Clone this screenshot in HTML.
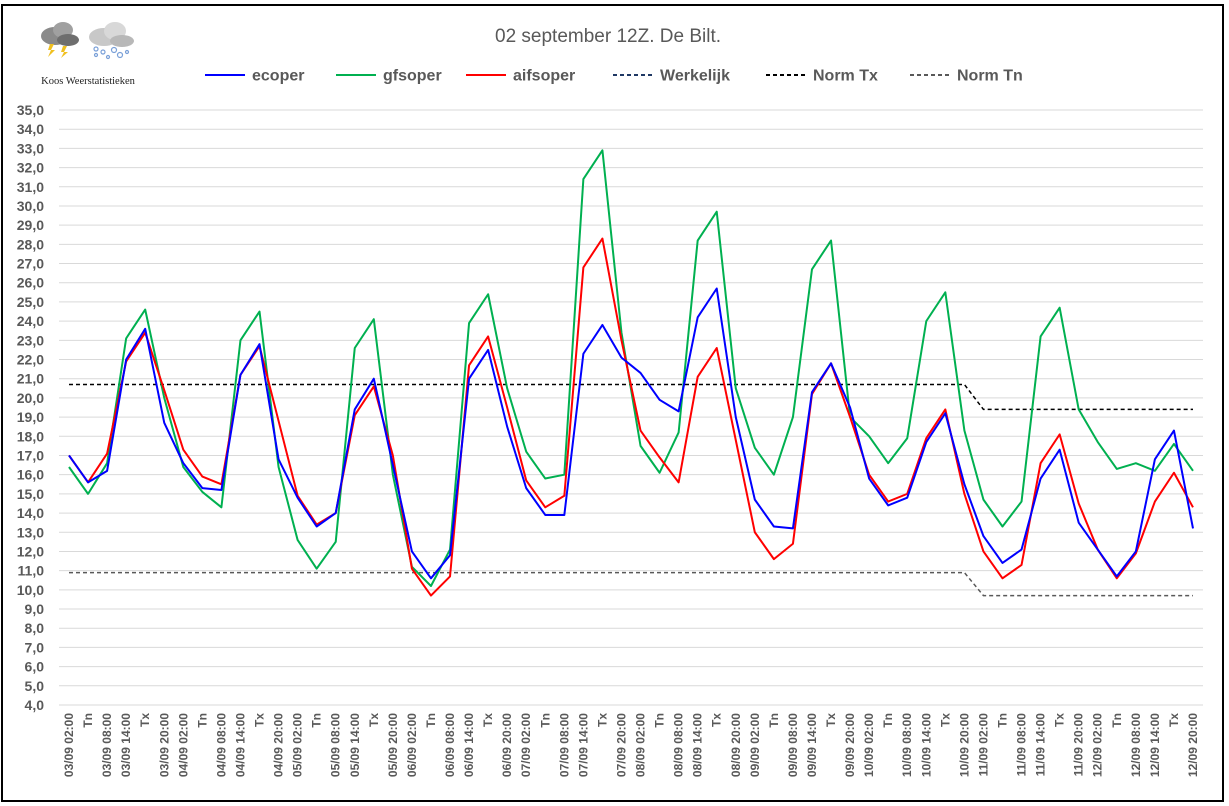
<!DOCTYPE html>
<html><head><meta charset="utf-8"><style>
html,body{margin:0;padding:0;background:#fff;}
body{width:1229px;height:806px;overflow:hidden;position:relative;font-family:"Liberation Sans",sans-serif;}
#frame{position:absolute;left:1px;top:4px;width:1223px;height:798px;border:2px solid #000;box-sizing:border-box;}
</style></head><body>
<div id="frame"></div>
<svg id="chart" width="1229" height="806" style="position:absolute;left:0;top:0">
  <g>
    <ellipse cx="55" cy="36" rx="14" ry="9" fill="#8a8a8a"/>
    <ellipse cx="63" cy="30" rx="10" ry="8" fill="#a0a0a0"/>
    <ellipse cx="68" cy="40" rx="11" ry="6" fill="#6e6e6e"/>
    <polygon points="50,44 54,44 51,50 55,50 48,57 51,50 48,50" fill="#f0c020"/>
    <polygon points="63,46 67,46 64,52 68,52 61,58 64,52 61,52" fill="#f0c020"/>
    <ellipse cx="104" cy="37" rx="15" ry="9" fill="#c8c8c8"/>
    <ellipse cx="115" cy="31" rx="11" ry="9" fill="#d8d8d8"/>
    <ellipse cx="122" cy="41" rx="12" ry="6" fill="#b8b8b8"/>
    <g fill="none" stroke="#7aa0d8" stroke-width="1.2">
      <circle cx="96" cy="49" r="2"/><circle cx="103" cy="52" r="2"/><circle cx="114" cy="50" r="2.5"/>
      <circle cx="96" cy="55" r="1.5"/><circle cx="108" cy="57" r="1.5"/><circle cx="120" cy="55" r="2.5"/><circle cx="127" cy="52" r="1.5"/>
    </g>
    <text x="88" y="84" text-anchor="middle" font-family="Liberation Serif,serif" font-size="10.5" fill="#222">Koos Weerstatistieken</text>
  </g>
  <text x="608" y="42" text-anchor="middle" font-size="19" fill="#595959">02 september 12Z. De Bilt.</text>
  <g id="legend"></g>
  <g id="grid"></g><g id="ylab"></g><g id="xlab"></g><g id="series"></g>
</svg>
<script>
const categories=[];
const days=["03/09","04/09","05/09","06/09","07/09","08/09","09/09","10/09","11/09","12/09"];
for(const d of days){categories.push(d+" 02:00","Tn",d+" 08:00",d+" 14:00","Tx",d+" 20:00");}
const ecoper=[17.0,15.6,16.2,22.0,23.6,18.7,16.6,15.3,15.2,21.2,22.8,16.8,14.8,13.3,14.0,19.4,21.0,16.5,12.0,10.6,11.8,21.0,22.5,18.5,15.3,13.9,13.9,22.3,23.8,22.1,21.3,19.9,19.3,24.2,25.7,19.0,14.7,13.3,13.2,20.3,21.8,19.5,15.8,14.4,14.8,17.7,19.2,15.5,12.8,11.4,12.1,15.8,17.3,13.5,12.1,10.7,12.0,16.8,18.3,13.2];
const gfsoper=[16.4,15.0,16.6,23.1,24.6,20.0,16.4,15.1,14.3,23.0,24.5,16.4,12.6,11.1,12.5,22.6,24.1,16.0,11.2,10.2,12.1,23.9,25.4,20.5,17.2,15.8,16.0,31.4,32.9,23.4,17.5,16.1,18.2,28.2,29.7,20.5,17.4,16.0,19.0,26.7,28.2,19.0,18.0,16.6,17.9,24.0,25.5,18.3,14.7,13.3,14.6,23.2,24.7,19.4,17.7,16.3,16.6,16.2,17.6,16.2];
const aifsoper=[17.0,15.6,17.1,21.9,23.4,20.4,17.3,15.9,15.5,21.2,22.7,18.8,14.9,13.4,14.0,19.1,20.6,17.0,11.1,9.7,10.7,21.7,23.2,19.5,15.7,14.3,14.9,26.8,28.3,23.0,18.3,16.9,15.6,21.1,22.6,17.8,13.0,11.6,12.4,20.2,21.8,19.0,16.0,14.6,15.0,17.9,19.4,15.0,12.0,10.6,11.3,16.6,18.1,14.5,12.1,10.6,11.9,14.6,16.1,14.3];
const normTx=[];const normTn=[];
for(let i=0;i<60;i++){normTx.push(i<48?20.7:19.4);normTn.push(i<48?10.9:9.7);}
const yTicks=[];for(let v=4;v<=35;v++)yTicks.push(v);

const NS="http://www.w3.org/2000/svg";
const X0=69,X1=1193,Y0=705,Y1=110,YMIN=4,YMAX=35;
const xs=i=>X0+(X1-X0)*i/(categories.length-1);
const ys=v=>Y0-(v-YMIN)/(YMAX-YMIN)*(Y0-Y1);
function mk(tag,attrs,parent){const e=document.createElementNS(NS,tag);for(const k in attrs)e.setAttribute(k,attrs[k]);parent.appendChild(e);return e;}
const grid=document.getElementById('grid'),ylab=document.getElementById('ylab'),xlab=document.getElementById('xlab'),ser=document.getElementById('series'),leg=document.getElementById('legend');
for(const v of yTicks){
  const l=mk('line',{x1:59,x2:1203,y1:ys(v),y2:ys(v),stroke:'#d9d9d9','stroke-width':1},grid);
  
  
  const t=mk('text',{x:44,y:ys(v)+5,'text-anchor':'end','font-size':14,'font-weight':'bold',fill:'#595959'},ylab);
  t.textContent=v.toFixed(1).replace('.',',');
  
  
}
categories.forEach((c,i)=>{
  const x=xs(i)+4;
  const t=mk('text',{x:x,y:713,'text-anchor':'end','font-size':12,'font-weight':'bold',fill:'#595959',transform:`rotate(-90 ${x} 713)`},xlab);
  t.textContent=c;
  
  
});
function line(data,color,dash,name){
  const p=mk('polyline',{points:data.map((v,i)=>xs(i)+','+ys(v)).join(' '),fill:'none',stroke:color,'stroke-width':dash?1.5:2,'stroke-dasharray':dash||'none','stroke-linejoin':'round'},ser);
  
  
}
line(normTn,'#595959','4 3','norm-tn-line');
line(normTx,'#000','4 3','norm-tx-line');
line(gfsoper,'#00b050',null,'gfsoper-line');
line(aifsoper,'#ff0000',null,'aifsoper-line');
line(ecoper,'#0000ff',null,'ecoper-line');
const legItems=[["ecoper","#0000ff",null,205],["gfsoper","#00b050",null,336],["aifsoper","#ff0000",null,466],["Werkelijk","#1f3864","4 3",613],["Norm Tx","#000","4 3",766],["Norm Tn","#595959","4 3",910]];
for(const [n,c,d,x] of legItems){
  const g=mk('g',{},leg);
  
  
  mk('line',{x1:x,x2:x+40,y1:75,y2:75,stroke:c,'stroke-width':2,'stroke-dasharray':d||'none'},g);
  const t=mk('text',{x:x+47,y:80.5,'font-size':16,'font-weight':'bold',fill:'#595959'},g);
  t.textContent=n;
}
</script>
</body></html>
